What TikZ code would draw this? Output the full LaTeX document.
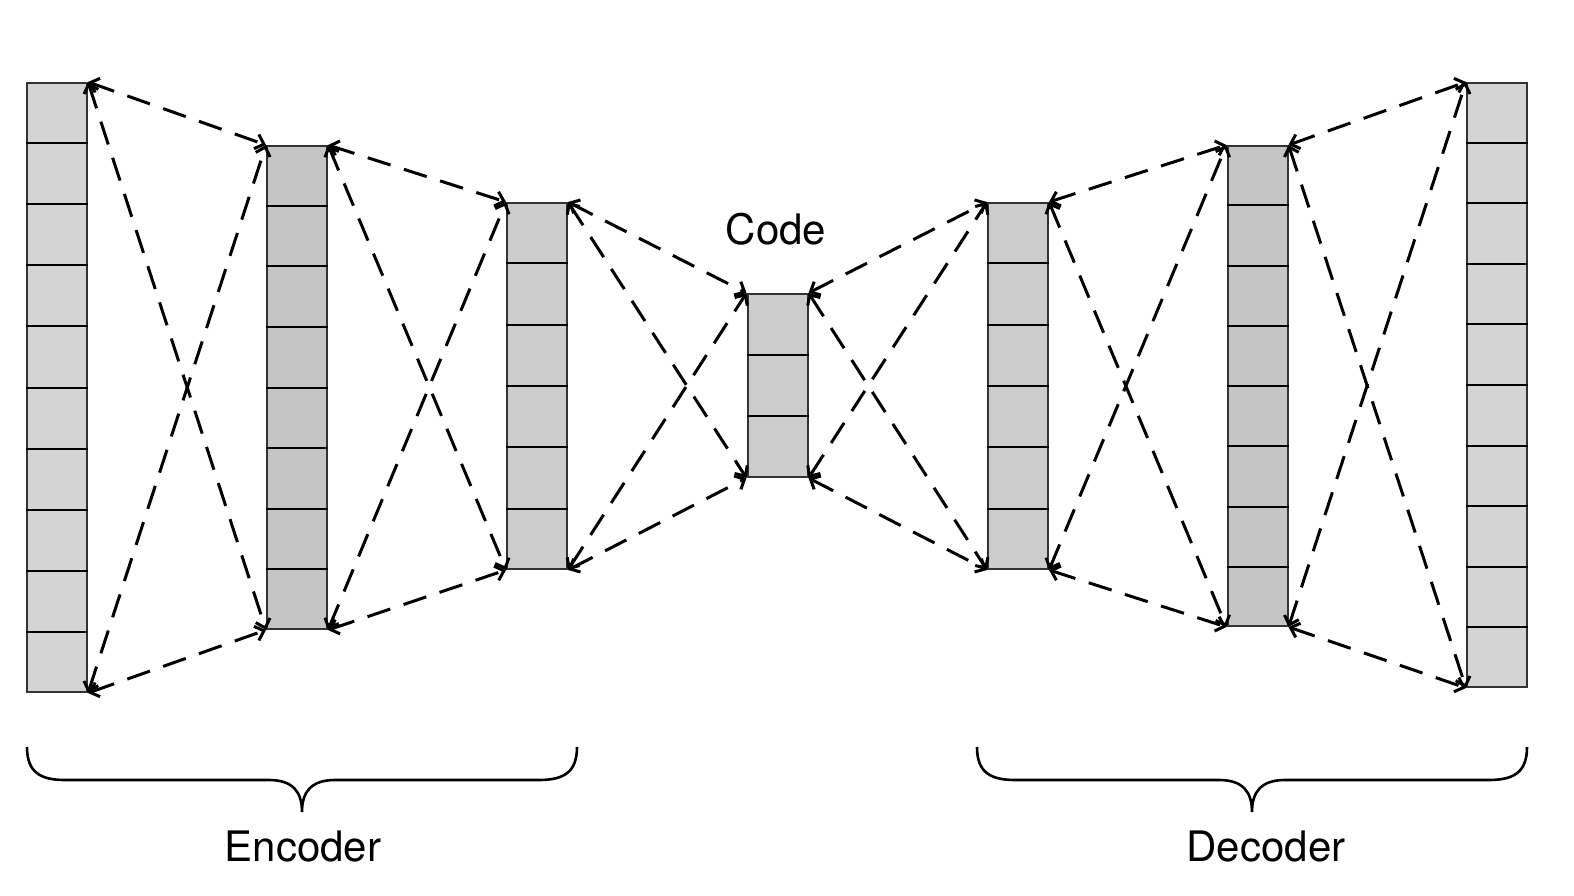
\documentclass[tikz,border=0pt]{standalone}
\usepackage{fontspec}
\setmainfont{TeX Gyre Heros}
\usetikzlibrary{arrows.meta,calc}
\definecolor{cellA}{HTML}{D4D4D4}
\definecolor{cellB}{HTML}{C5C5C5}
\definecolor{cellC}{HTML}{CCCCCC}
\definecolor{edge}{HTML}{333333}
\begin{document}
\begin{tikzpicture}[x=1pt,y=-1pt,
  col/.style={draw=edge,line width=2pt,inner sep=0pt,minimum width=60pt},
  conn/.style={line width=3pt,dash pattern=on 24pt off 14pt,
    {Straight Barb[length=8pt,width=15pt]}-{Straight Barb[length=8pt,width=15pt]}},
  brace/.style={line width=2.6pt},
  lab/.style={font=\fontsize{42}{48}\selectfont,inner sep=0pt}]
\useasboundingbox (0,0) rectangle (1574,896);
% columns
\node[col,fill=cellA,minimum height=609pt] (c1) at (57,387.5) {};
\node[col,fill=cellB,minimum height=483pt] (c2) at (297,387.5) {};
\node[col,fill=cellC,minimum height=366pt] (c3) at (537,386) {};
\node[col,fill=cellC,minimum height=183pt] (c4) at (777.5,385.5) {};
\node[col,fill=cellC,minimum height=366pt] (c5) at (1018,386) {};
\node[col,fill=cellB,minimum height=480pt] (c6) at (1257.5,386) {};
\node[col,fill=cellA,minimum height=604pt] (c7) at (1497,385) {};
% cell separators
\foreach \c/\n in {c1/10,c2/8,c3/6,c4/3,c5/6,c6/8,c7/10}{
  \pgfmathtruncatemacro{\m}{\n-1}
  \foreach \i in {1,...,\m}{
    \draw[line width=2pt] ($(\c.north west)!\i/\n!(\c.south west)$) -- ($(\c.north east)!\i/\n!(\c.south east)$);
  }
}
% connections
\foreach \a/\b in {c1/c2,c2/c3,c3/c4,c4/c5,c5/c6,c6/c7}{
  \draw[conn] (\a.north east) -- (\b.north west);
  \draw[conn] (\a.north east) -- (\b.south west);
  \draw[conn] (\a.south east) -- (\b.north west);
  \draw[conn] (\a.south east) -- (\b.south west);
}
% labels
\node[lab] (code) at (776,229) {Code};
\coordinate (eL) at (27,747);
\coordinate (eR) at (577,747);
\coordinate (eT) at (302,812);
\coordinate (dL) at (977,747);
\coordinate (dR) at (1527,747);
\coordinate (dT) at (1252,812);
\draw[brace] (eL) .. controls (27,772) and (40,780) .. (65,780) -- (269,780)
  .. controls (293,780) and (302,792) .. (eT)
  .. controls (302,792) and (311,780) .. (335,780) -- (539,780)
  .. controls (564,780) and (577,772) .. (eR);
\draw[brace] (dL) .. controls (977,772) and (990,780) .. (1015,780) -- (1219,780)
  .. controls (1243,780) and (1252,792) .. (dT)
  .. controls (1252,792) and (1261,780) .. (1285,780) -- (1489,780)
  .. controls (1514,780) and (1527,772) .. (dR);
\node[lab] (enc) at (303,846) {Encoder};
\node[lab] (dec) at (1266,846) {Decoder};
\end{tikzpicture}
\end{document}
